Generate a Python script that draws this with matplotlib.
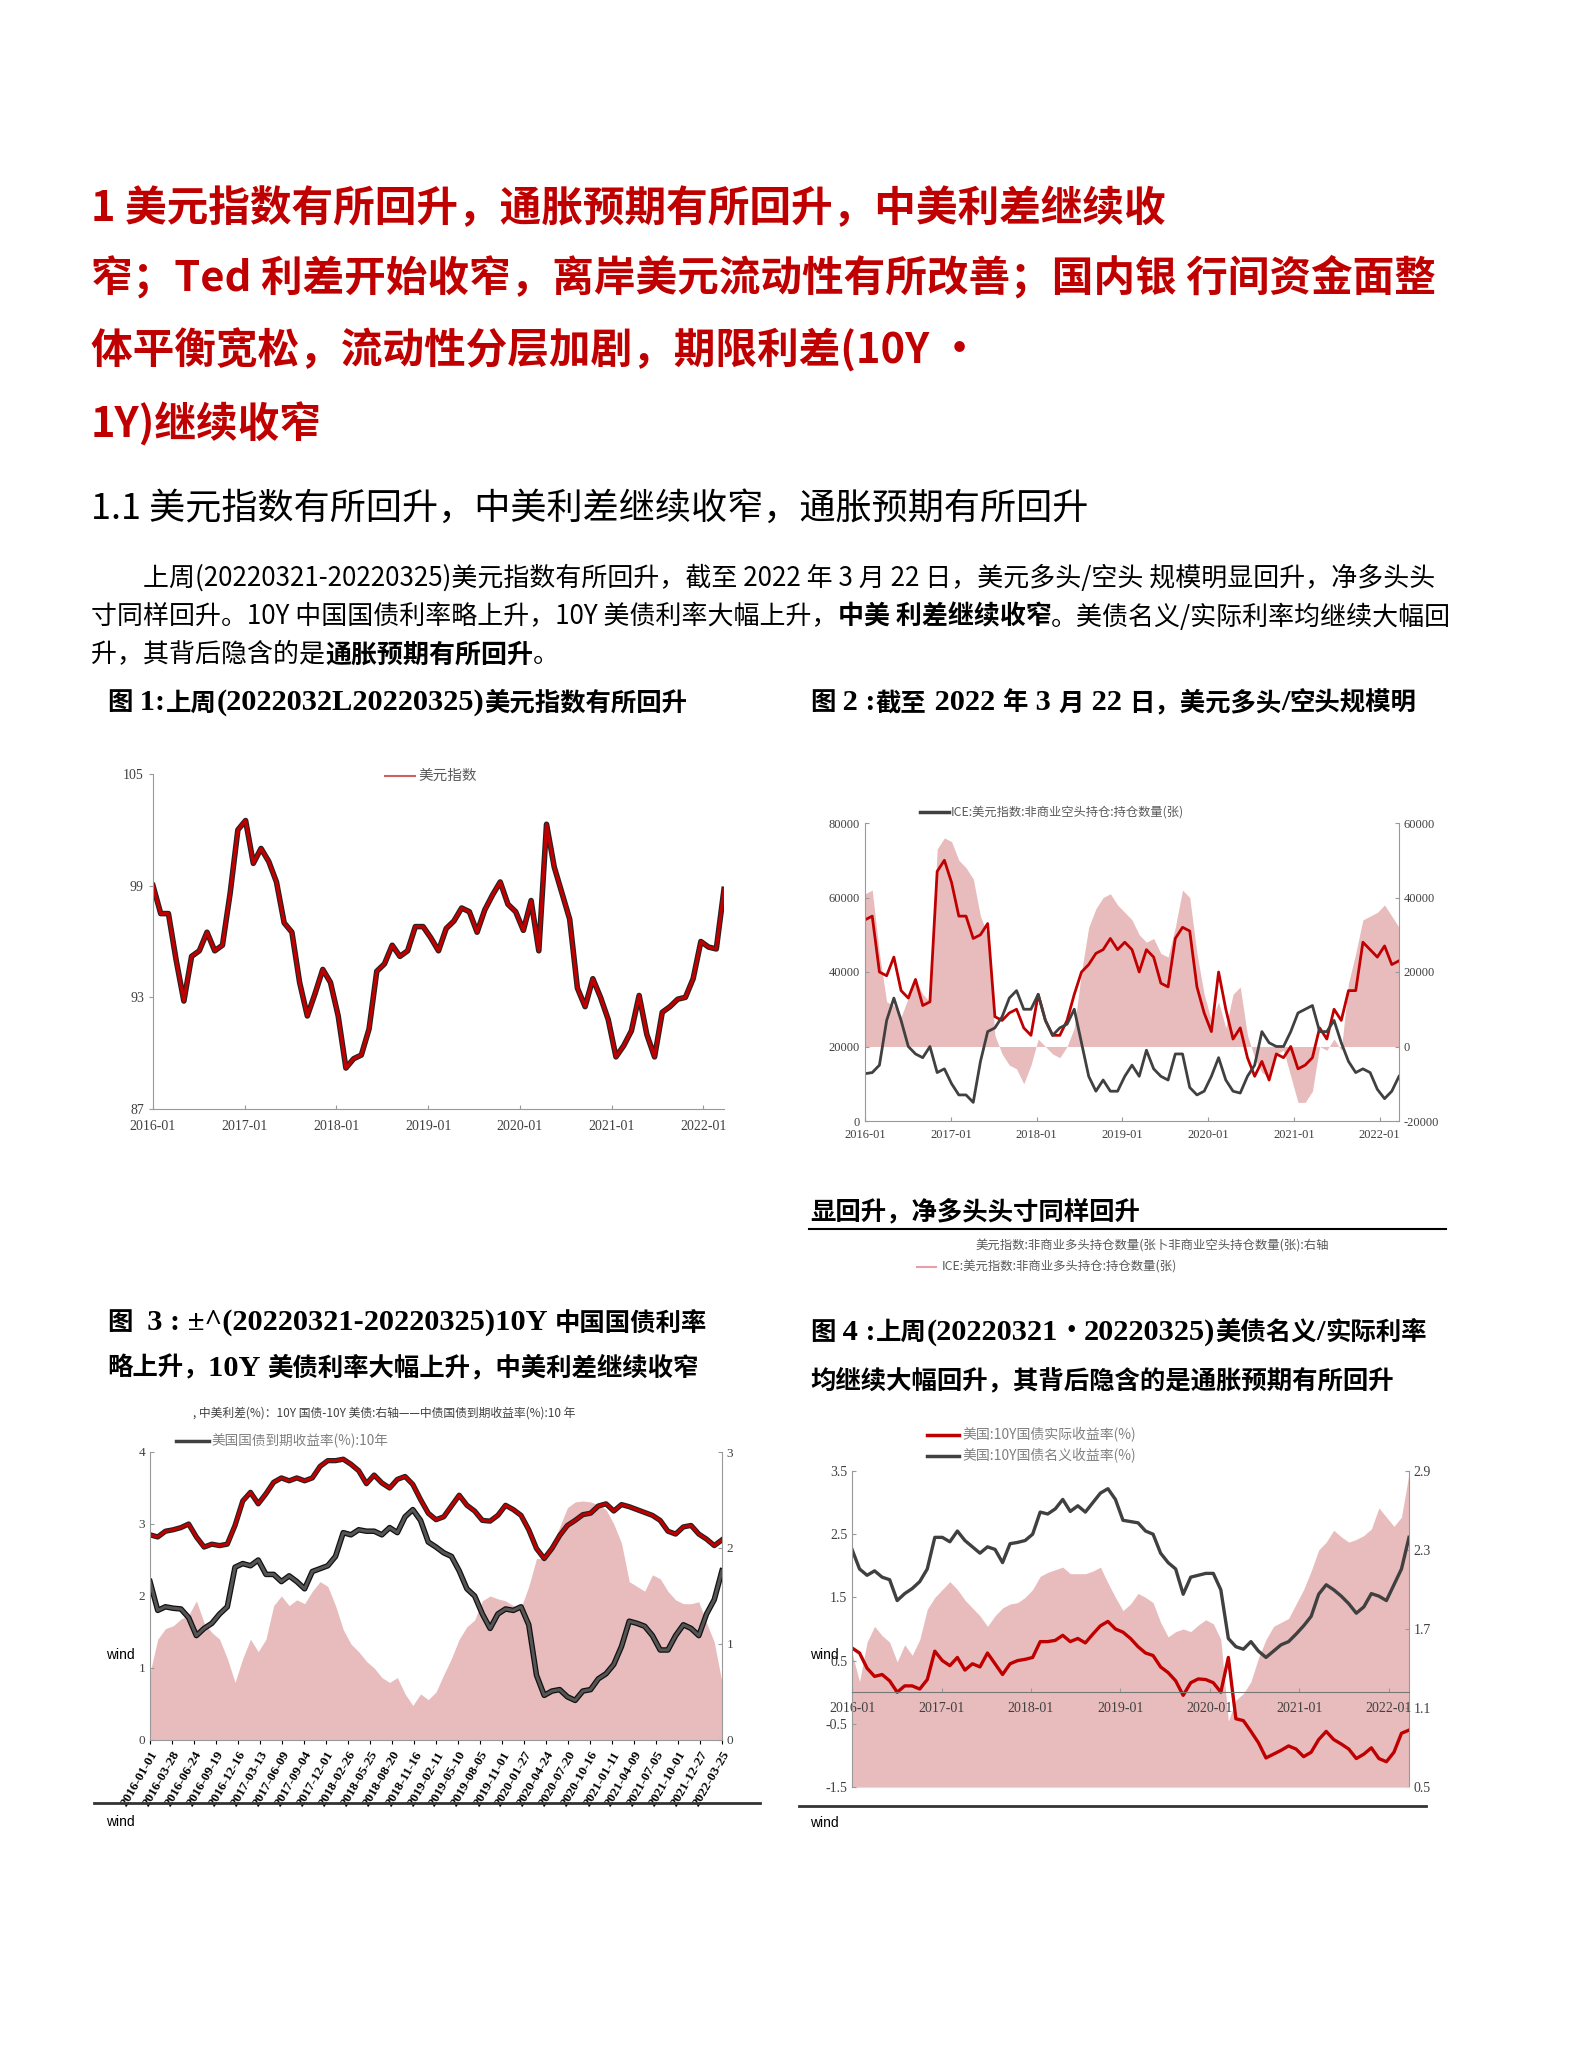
import re
import matplotlib
matplotlib.use('Agg')
import matplotlib.pyplot as plt
import matplotlib.dates as mdates
from matplotlib.lines import Line2D
import pandas as pd

W, H = 1571, 2046
CJK = ['Noto Sans CJK SC', 'DejaVu Sans']
SERIF_CJK = ['Liberation Serif', 'Noto Sans CJK SC']
RED = '#c00000'
DARK = '#404040'
PINK = '#e8bcbc'
GREY = '#999999'

plt.rcParams['font.family'] = SERIF_CJK
plt.rcParams['axes.unicode_minus'] = False

# ---- data (monthly readings, 2016-01 .. 2022-03) ----
start, end = '2016-01-01', '2022-03-25'
months = pd.date_range(start, end, periods=75)

dxy = [99.0, 97.5, 97.5, 95.0, 92.8, 95.2, 95.5, 96.5, 95.5, 95.8,
       98.6, 102.0, 102.5, 100.2, 101.0, 100.3, 99.2, 97.0, 96.5, 93.8,
       92.0, 93.2, 94.5, 93.8, 92.0, 89.2, 89.7, 89.9, 91.3, 94.4,
       94.8, 95.8, 95.2, 95.5, 96.8, 96.8, 96.2, 95.5, 96.7, 97.1,
       97.8, 97.6, 96.5, 97.7, 98.5, 99.2, 98.0, 97.6, 96.6, 98.2,
       95.5, 102.3, 100.0, 98.6, 97.2, 93.5, 92.5, 94.0, 93.0, 91.8,
       89.8, 90.4, 91.2, 93.1, 91.0, 89.8, 92.2, 92.5, 92.9, 93.0,
       94.0, 96.0, 95.7, 95.6, 98.8]

# ICE positions, thousand contracts
long_pos = [54, 55, 40, 39, 44, 35, 33, 38, 31, 32,
            67, 70, 64, 55, 55, 49, 50, 53, 28, 27,
            29, 30, 25, 23, 34, 27, 23, 23, 27, 34,
            40, 42, 45, 46, 49, 46, 48, 46, 40, 46,
            44, 37, 36, 49, 52, 51, 36, 29, 24, 40,
            30, 22, 25, 17, 12, 16, 11, 18, 17, 20,
            14, 15, 17, 25, 22, 30, 27, 35, 35, 48,
            46, 44, 47, 42, 43]
short_pos = [12.7, 13, 15, 27, 33, 27, 20, 18, 17, 20,
             13, 14, 10, 7, 7, 5, 16, 24, 25, 28,
             33, 35, 30, 30, 34, 27, 23, 25, 26, 30,
             21, 12, 8, 11, 8, 8, 12, 15, 12, 19,
             14, 12, 11, 18, 18, 9, 7, 8, 12, 17,
             11, 8, 7.5, 12, 15, 24, 21, 20, 20, 24,
             29, 30, 31, 24, 24, 27, 21, 16, 13, 14,
             13, 8.5, 6, 8, 12]
net_pos = [41, 42, 25, 12, 11, 8, 13, 18, 14, 12,
           53, 56, 55, 50, 48, 45, 35, 30, 3, -2,
           -5, -6, -10, -5, 2, 0, -2, -3, 0, 5,
           20, 32, 37, 40, 41, 38, 36, 34, 30, 28,
           29, 25, 24, 32, 42, 40, 25, 14, 7, 12,
           5, 14, 16, 3, -3, -7, -8, -2, -1, -8,
           -15, -15, -12, 0, -1, 2, -1, 17, 25, 34,
           35, 36, 38, 35, 32]

cn10y = [2.85, 2.82, 2.90, 2.92, 2.95, 3.00, 2.82, 2.68, 2.72, 2.70,
         2.72, 2.98, 3.32, 3.44, 3.28, 3.42, 3.58, 3.64, 3.60, 3.64,
         3.60, 3.64, 3.80, 3.88, 3.88, 3.90, 3.83, 3.74, 3.56, 3.68,
         3.57, 3.50, 3.62, 3.66, 3.55, 3.34, 3.15, 3.06, 3.10, 3.25,
         3.40, 3.26, 3.18, 3.05, 3.04, 3.12, 3.26, 3.20, 3.12, 2.92,
         2.66, 2.52, 2.66, 2.84, 2.98, 3.05, 3.13, 3.15, 3.25, 3.28,
         3.18, 3.27, 3.24, 3.20, 3.16, 3.12, 3.05, 2.90, 2.86, 2.96,
         2.98, 2.86, 2.79, 2.70, 2.78]
us10y = [2.20, 1.80, 1.85, 1.83, 1.82, 1.70, 1.45, 1.55, 1.62, 1.75,
         1.85, 2.40, 2.45, 2.42, 2.50, 2.30, 2.30, 2.20, 2.28, 2.20,
         2.10, 2.34, 2.38, 2.42, 2.55, 2.88, 2.85, 2.92, 2.90, 2.90,
         2.85, 2.95, 2.88, 3.10, 3.20, 3.05, 2.75, 2.68, 2.60, 2.55,
         2.35, 2.10, 2.00, 1.75, 1.55, 1.75, 1.82, 1.80, 1.85, 1.60,
         0.90, 0.62, 0.68, 0.70, 0.60, 0.55, 0.68, 0.70, 0.85, 0.92,
         1.05, 1.30, 1.65, 1.62, 1.58, 1.45, 1.25, 1.25, 1.45, 1.60,
         1.55, 1.45, 1.75, 1.95, 2.35]
spread = [0.70, 1.05, 1.16, 1.19, 1.26, 1.30, 1.45, 1.22, 1.12, 1.05,
          0.85, 0.60, 0.85, 1.05, 0.92, 1.05, 1.40, 1.50, 1.40, 1.46,
          1.42, 1.55, 1.65, 1.60, 1.40, 1.15, 1.00, 0.92, 0.82, 0.75,
          0.65, 0.60, 0.65, 0.48, 0.36, 0.48, 0.42, 0.50, 0.68, 0.85,
          1.05, 1.18, 1.25, 1.45, 1.50, 1.47, 1.45, 1.40, 1.38, 1.60,
          1.89, 1.89, 2.02, 2.22, 2.42, 2.48, 2.49, 2.48, 2.45, 2.40,
          2.25, 2.05, 1.65, 1.60, 1.55, 1.72, 1.68, 1.55, 1.46, 1.42,
          1.42, 1.44, 1.22, 1.02, 0.60]

nominal = [2.26, 1.95, 1.85, 1.92, 1.82, 1.78, 1.45, 1.56, 1.64, 1.75,
           1.95, 2.45, 2.45, 2.38, 2.55, 2.40, 2.30, 2.20, 2.30, 2.26,
           2.05, 2.35, 2.37, 2.40, 2.50, 2.85, 2.82, 2.90, 3.05, 2.86,
           2.95, 2.85, 3.00, 3.15, 3.22, 3.05, 2.72, 2.70, 2.68, 2.55,
           2.50, 2.20, 2.05, 1.95, 1.55, 1.82, 1.85, 1.88, 1.88, 1.62,
           0.85, 0.72, 0.68, 0.80, 0.65, 0.55, 0.65, 0.75, 0.80, 0.92,
           1.05, 1.20, 1.55, 1.70, 1.62, 1.52, 1.40, 1.25, 1.35, 1.56,
           1.52, 1.45, 1.70, 1.95, 2.45]
real = [0.70, 0.62, 0.38, 0.25, 0.28, 0.18, 0.00, 0.10, 0.10, 0.05,
        0.20, 0.65, 0.50, 0.42, 0.55, 0.35, 0.45, 0.40, 0.62, 0.45,
        0.28, 0.45, 0.50, 0.52, 0.55, 0.80, 0.80, 0.82, 0.90, 0.80,
        0.85, 0.78, 0.92, 1.05, 1.12, 1.00, 0.95, 0.85, 0.72, 0.62,
        0.58, 0.40, 0.31, 0.18, -0.05, 0.15, 0.21, 0.20, 0.15, 0.00,
        0.55, -0.42, -0.45, -0.62, -0.80, -1.04, -0.98, -0.92, -0.85, -0.90,
        -1.02, -0.95, -0.75, -0.62, -0.75, -0.82, -0.90, -1.05, -0.98, -0.88,
        -1.05, -1.10, -0.95, -0.65, -0.60]
breakeven = [1.52, 1.30, 1.60, 1.72, 1.65, 1.60, 1.45, 1.58, 1.50, 1.62,
             1.85, 1.94, 2.00, 2.06, 2.00, 1.92, 1.86, 1.80, 1.72, 1.80,
             1.86, 1.89, 1.90, 1.94, 2.00, 2.10, 2.13, 2.15, 2.17, 2.12,
             2.12, 2.12, 2.14, 2.17, 2.05, 1.94, 1.84, 1.89, 1.97, 1.94,
             1.90, 1.75, 1.64, 1.68, 1.70, 1.68, 1.73, 1.77, 1.74, 1.62,
             1.00, 1.16, 1.21, 1.30, 1.48, 1.62, 1.72, 1.75, 1.78, 1.89,
             2.00, 2.14, 2.30, 2.36, 2.45, 2.40, 2.36, 2.38, 2.41, 2.46,
             2.62, 2.55, 2.48, 2.55, 2.88]

# ---- page ----
fig = plt.figure(figsize=(W / 100, H / 100), dpi=100)
renderer = fig.canvas.get_renderer()


def fx(x):
    return x / W


def fy(y):
    return 1 - y / H


def text(x, y, s, size, color='black', bold=False, family=CJK):
    return fig.text(fx(x), fy(y), s, fontsize=size, color=color,
                    fontweight='bold' if bold else 'normal', family=family,
                    va='center', ha='left')


def runs(x, y, parts, size, color='black'):
    for s, bold in parts:
        t = text(x, y, s, size, color, bold)
        x += t.get_window_extent(renderer=renderer).width


def caption(x, y, s, size=18.3):
    # latin / digits in a larger bold serif, CJK in bold sans
    for piece in re.split(r'([\x20-\x7e±]+)', s):
        if not piece:
            continue
        if re.fullmatch(r'[\x20-\x7e±]+', piece):
            t = text(x, y, piece, size * 1.2, bold=True, family=['Liberation Serif'])
        else:
            t = text(x, y, piece, size, bold=True)
        x += t.get_window_extent(renderer=renderer).width


def hline(x0, x1, y, color, lw):
    fig.add_artist(Line2D([fx(x0), fx(x1)], [fy(y), fy(y)],
                          transform=fig.transFigure, color=color, lw=lw))


def add_ax(l, r, t, b):
    return fig.add_axes([fx(l), fy(b), (r - l) / W, (b - t) / H])


def style(ax, sides, size=9.5):
    for s in ['top', 'right', 'left', 'bottom']:
        ax.spines[s].set_visible(s in sides)
        ax.spines[s].set_color(GREY)
    ax.tick_params(labelsize=size, colors=GREY, labelcolor='#404040',
                   direction='in', length=3)


def yearly(ax, pad=6):
    ax.xaxis.set_major_locator(mdates.YearLocator())
    ax.xaxis.set_major_formatter(mdates.DateFormatter('%Y-%m'))
    ax.set_xlim(months[0], months[-1])
    ax.tick_params(axis='x', pad=pad)


# titles
title_lines = ['1 美元指数有所回升，通胀预期有所回升，中美利差继续收',
               '窄；Ted 利差开始收窄，离岸美元流动性有所改善；国内银 行间资金面整',
               '体平衡宽松，流动性分层加剧，期限利差(10Y ·',
               '1Y)继续收窄']
for yy, s in zip([209, 278, 350, 424], title_lines):
    text(91, yy, s, 30, RED, True)

text(91, 509, '1.1 美元指数有所回升，中美利差继续收窄，通胀预期有所回升', 26)

runs(143, 578, [('上周(20220321-20220325)美元指数有所回升，截至 2022 年 3 月 22 日，'
                 '美元多头/空头 规模明显回升，净多头头', False)], 18.7)
runs(91, 617, [('寸同样回升。10Y 中国国债利率略上升，10Y 美债利率大幅上升，', False),
               ('中美 利差继续收窄', True),
               ('。美债名义/实际利率均继续大幅回', False)], 18.7)
runs(91, 655, [('升，其背后隐含的是', False), ('通胀预期有所回升', True),
               ('。', False)], 18.7)

caption(107, 703, '图 1:上周(2022032L20220325)美元指数有所回升')
caption(810, 703, '图 2 :截至 2022 年 3 月 22 日，美元多头/空头规模明')
caption(810, 1212, '显回升，净多头头寸同样回升')
caption(107, 1323, '图  3 : ±^(20220321-20220325)10Y 中国国债利率')
caption(107, 1368, '略上升，10Y 美债利率大幅上升，中美利差继续收窄')
caption(810, 1332, '图 4 :上周(20220321・20220325)美债名义/实际利率')
caption(810, 1381, '均继续大幅回升，其背后隐含的是通胀预期有所回升')

# ---- chart 1: dollar index ----
ax1 = add_ax(153, 724, 774, 1109)
ax1.plot(months, dxy, color='#222222', lw=4.0)
ax1.plot(months, dxy, color=RED, lw=2.4)
ax1.set_ylim(87, 105)
ax1.set_yticks([87, 93, 99, 105])
style(ax1, ['left', 'bottom'], 10)
yearly(ax1, 8)
ax1.tick_params(axis='y', direction='out')
hline(385, 415, 776, '#d06060', 1.5)
text(418, 776, '美元指数', 10.5, '#595959')

# ---- chart 2: ICE positions ----
ax2 = add_ax(865, 1399, 823, 1121)
ax2r = ax2.twinx()
ax2r.fill_between(months, 0, [v * 1000 for v in net_pos], color=PINK, lw=0)
ax2r.set_ylim(-20000, 60000)
ax2r.set_yticks(range(-20000, 60001, 20000))
ax2.plot(months, [v * 1000 for v in long_pos], color=RED, lw=2)
ax2.plot(months, [v * 1000 for v in short_pos], color=DARK, lw=2)
ax2.set_ylim(0, 80000)
ax2.set_yticks(range(0, 80001, 20000))
ax2.set_zorder(ax2r.get_zorder() + 1)
ax2.patch.set_visible(False)
style(ax2, ['left', 'bottom'], 9)
style(ax2r, ['right'], 9)
yearly(ax2, 6)
hline(920, 949, 812, DARK, 2.5)
text(951, 812, 'ICE:美元指数:非商业空头持仓:持仓数量(张)', 8.8, '#595959')
hline(809, 1446, 1229, 'black', 1.5)
text(975, 1246, '美元指数:非商业多头持仓数量(张卜非商业空头持仓数量(张):右轴', 8.9, '#595959')
hline(917, 936, 1267, '#e8a0a8', 1.5)
text(942, 1267, 'ICE:美元指数:非商业多头持仓:持仓数量(张)', 8.9, '#595959')

# ---- chart 3: China / US 10Y ----
ax3 = add_ax(150, 722, 1452, 1740)
ax3r = ax3.twinx()
ax3r.fill_between(months, 0, spread, color=PINK, lw=0)
ax3r.set_ylim(0, 3)
ax3r.set_yticks([0, 1, 2, 3])
ax3.plot(months, cn10y, color='#222222', lw=3.8)
ax3.plot(months, cn10y, color=RED, lw=2.2)
ax3.plot(months, us10y, color='#111111', lw=4.0)
ax3.plot(months, us10y, color='#555555', lw=2.2)
ax3.set_ylim(0, 4)
ax3.set_yticks([0, 1, 2, 3, 4])
ax3.set_zorder(ax3r.get_zorder() + 1)
ax3.patch.set_visible(False)
ax3.set_xlim(months[0], months[-1])
ticks3 = pd.date_range(start, end, periods=27)
ax3.set_xticks(ticks3)
ax3.set_xticklabels([d.strftime('%Y-%m-%d') for d in ticks3], rotation=60,
                    ha='right', rotation_mode='anchor', fontsize=8,
                    fontweight='bold', color='black')
style(ax3, ['left', 'bottom'], 9.5)
style(ax3r, ['right'], 9.5)
ax3.tick_params(axis='x', direction='out', colors='black', labelcolor='black')
text(193, 1413, ', 中美利差(%)：10Y 国债-10Y 美债:右轴——中债国债到期收益率(%):10 年', 8.5, '#404040')
hline(176, 209, 1441, DARK, 2.5)
text(211, 1441, '美国国债到期收益率(%):10年', 9.8, '#808080')
hline(94, 760, 1803, '#333333', 2)
text(106, 1655, 'wind', 10, family=['Liberation Sans'])
text(106, 1822, 'wind', 10, family=['Liberation Sans'])

# ---- chart 4: US nominal / real ----
ax4 = add_ax(852, 1409, 1471, 1787)
ax4r = ax4.twinx()
ax4r.fill_between(months, 0.5, breakeven, color=PINK, lw=0)
ax4r.set_ylim(0.5, 2.9)
ax4r.set_yticks([0.5, 1.1, 1.7, 2.3, 2.9])
ax4.plot(months, nominal, color=DARK, lw=2.4)
ax4.plot(months, real, color=RED, lw=2.4)
ax4.set_ylim(-1.5, 3.5)
ax4.set_yticks([3.5, 2.5, 1.5, 0.5, -0.5, -1.5])
ax4.set_zorder(ax4r.get_zorder() + 1)
ax4.patch.set_visible(False)
style(ax4, ['left', 'bottom'], 10)
style(ax4r, ['right', 'bottom'], 10)
yearly(ax4, 7)
ax4.spines['bottom'].set_position(('data', 0))
ax4.spines['bottom'].set_color('#777777')
ax4r.spines['bottom'].set_color('#dddddd')
hline(927, 959, 1435, RED, 2.5)
text(962, 1435, '美国:10Y国债实际收益率(%)', 10, '#808080')
hline(927, 959, 1456, DARK, 2.5)
text(962, 1456, '美国:10Y国债名义收益率(%)', 10, '#808080')
hline(799, 1426, 1806, '#333333', 2)
text(810, 1655, 'wind', 10, family=['Liberation Sans'])
text(810, 1823, 'wind', 10, family=['Liberation Sans'])

fig.savefig('out.png', dpi=100, facecolor='white')
